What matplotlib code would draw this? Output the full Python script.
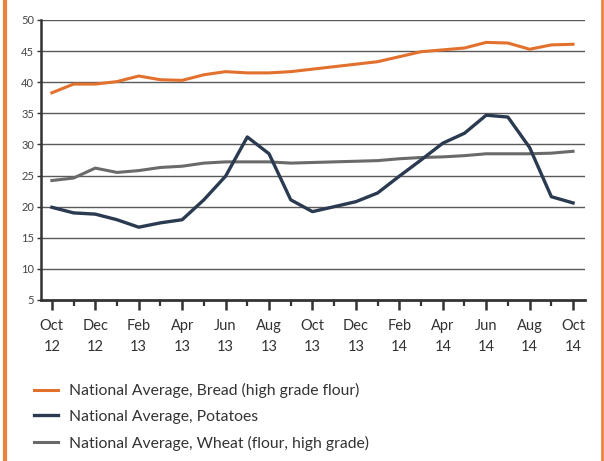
import matplotlib
matplotlib.use("Agg")
import matplotlib.pyplot as plt
from matplotlib.lines import Line2D
import numpy as np

plt.rcParams['font.family'] = ['Lato', 'DejaVu Sans']

months = ["Oct\n12", "", "Dec\n12", "", "Feb\n13", "", "Apr\n13", "", "Jun\n13", "", "Aug\n13", "",
          "Oct\n13", "", "Dec\n13", "", "Feb\n14", "", "Apr\n14", "", "Jun\n14", "", "Aug\n14", "", "Oct\n14"]

bread = [38.3, 39.7, 39.7, 40.1, 41.0, 40.4, 40.3, 41.2, 41.7, 41.5, 41.5, 41.7,
         42.1, 42.5, 42.9, 43.3, 44.1, 44.9, 45.2, 45.5, 46.4, 46.3, 45.3, 46.0, 46.1]
potatoes = [19.9, 19.0, 18.8, 17.9, 16.7, 17.4, 17.9, 21.1, 24.9, 31.2, 28.5, 21.1,
            19.2, 20.0, 20.8, 22.2, 24.9, 27.5, 30.2, 31.8, 34.7, 34.4, 29.5, 21.6, 20.6]
wheat = [24.2, 24.6, 26.2, 25.5, 25.8, 26.3, 26.5, 27.0, 27.2, 27.2, 27.2, 27.0,
         27.1, 27.2, 27.3, 27.4, 27.7, 27.9, 28.0, 28.2, 28.5, 28.5, 28.5, 28.6, 28.9]

labels = ["National Average, Bread (high grade flour)",
          "National Average, Potatoes",
          "National Average, Wheat (flour, high grade)"]
colors = ["#e2712e", "#2a3a50", "#6a6a6a"]

fig = plt.figure(figsize=(6.04, 4.61), dpi=100)
ax = fig.add_axes([41/604, 1-300/461, (585-41)/604, (300-20)/461])

x = np.arange(len(months))
for yv in range(10, 55, 5):
    ax.axhline(yv, color="#5a5a5a", lw=1.0, zorder=1)

l1, = ax.plot(x, bread, color=colors[0], lw=2.2, zorder=3)
l2, = ax.plot(x, potatoes, color=colors[1], lw=2.4, zorder=3)
l3, = ax.plot(x, wheat, color=colors[2], lw=2.2, zorder=2)

ax.set_xlim(-0.5, 24.55)
ax.set_ylim(5, 50)
ax.set_yticks(range(5, 55, 5))
ax.set_xticks(x[::2])
ax.set_xticklabels(months[::2])
ax.set_xticks(x[1::2], minor=True)
for lab in ax.get_xticklabels():
    lab.set_linespacing(1.6)

for s in ["top", "right"]:
    ax.spines[s].set_visible(False)
ax.spines["left"].set_color("#333333")
ax.spines["left"].set_linewidth(1.8)
ax.spines["bottom"].set_color("#333333")
ax.spines["bottom"].set_linewidth(2.0)

ax.tick_params(axis="x", which="major", length=7, width=1.8, color="#333333",
               labelsize=10.5, labelcolor="#333333", pad=7)
ax.tick_params(axis="x", which="minor", length=4, width=1.6, color="#333333")
ax.tick_params(axis="y", length=3, width=1, color="#333333", labelsize=8,
               labelcolor="#444444", pad=2)

fig.legend([l1, l2, l3], labels, loc="upper left", bbox_to_anchor=(34/604, 1-383/461),
           frameon=False, fontsize=11.3, handlelength=1.5, labelspacing=0.75,
           handletextpad=0.75, borderpad=0, borderaxespad=0, labelcolor="#333333")

fig.add_artist(Line2D([5/604, 5/604], [0, 1], color="#e8843f", lw=3, transform=fig.transFigure))
fig.add_artist(Line2D([602/604, 602/604], [0, 1], color="#e8843f", lw=2, transform=fig.transFigure))

fig.savefig("out.png", dpi=100)
